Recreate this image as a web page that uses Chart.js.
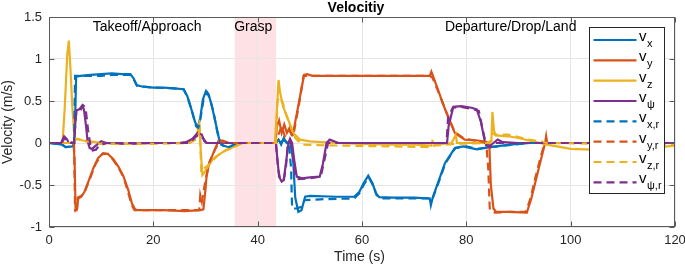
<!DOCTYPE html>
<html>
<head>
<meta charset="utf-8">
<script src="https://cdn.jsdelivr.net/npm/chart.js@4.4.1/dist/chart.umd.min.js"></script>
<style>
  html, body { margin: 0; padding: 0; background: #fff; }
</style>
</head>
<body>
<canvas id="velocity" width="685" height="266"></canvas>
<script>
const FONT = '"Liberation Sans", Arial, Helvetica, sans-serif';

// axis ticks
const xTicks = [0, 20, 40, 60, 80, 100, 120];
const yTicks = [-1, -0.5, 0, 0.5, 1, 1.5];

// grasp phase (s)
const graspStart = 35.6;
const graspEnd = 43.5;

// phase labels: [text, time]
const phases = [
    ['Takeoff/Approach', 18.8],
    ['Grasp', 35.5],
    ['Departure/Drop/Land', 88.5],
];

// measured velocities, [time (s), value (m/s)]
const vx = [[0,0],[2.5,-0.02],[3.2,-0.05],[4.5,-0.04],[4.9,0],[5.2,0.79],[6,0.80],[8,0.81],[10,0.82],[12,0.83],[14,0.82],[15.6,0.82],[16.2,0.77],[16.8,0.69],[18,0.67],[20,0.66],[22,0.66],[24,0.65],[25.8,0.64],[26.5,0.56],[27.3,0.40],[28,0.25],[28.5,0.18],[29,0.3],[29.5,0.52],[30.1,0.62],[30.6,0.58],[31.3,0.42],[32,0.22],[32.6,0.05],[33.3,-0.03],[34.5,-0.05],[35.5,-0.02],[37,0],[43.5,0],[44,0.04],[44.5,-0.02],[45,0.06],[45.6,0],[46.2,0.02],[46.8,-0.2],[47.2,-0.65],[47.8,-0.82],[48.4,-0.80],[49.1,-0.64],[50,-0.63],[55,-0.64],[58.5,-0.64],[59.5,-0.58],[60.3,-0.48],[61.2,-0.39],[62,-0.48],[62.7,-0.6],[63.3,-0.645],[66,-0.65],[70,-0.65],[73,-0.66],[73.2,-0.74],[73.6,-0.64],[74.3,-0.52],[75.9,-0.24],[77.8,-0.06],[79.4,-0.04],[82,-0.075],[84.5,-0.05],[88.4,-0.02],[92.2,0],[120,0]];
const vy = [[0,0],[4.7,0],[4.9,-0.2],[5.1,-0.80],[5.4,-0.78],[5.6,-0.66],[6.2,-0.64],[6.8,-0.58],[7.6,-0.45],[8.5,-0.30],[9.4,-0.18],[10.4,-0.12],[11.3,-0.13],[12.3,-0.19],[13.3,-0.28],[14.3,-0.4],[15.2,-0.56],[15.9,-0.72],[16.5,-0.79],[17,-0.80],[22,-0.80],[26,-0.81],[29,-0.80],[29.6,-0.79],[30.0,-0.55],[30.2,-0.40],[30.7,-0.24],[31.5,-0.12],[32.5,0.03],[33.3,0.03],[34.5,0],[43.4,0],[43.7,0.2],[44.1,0.27],[44.6,0.12],[45.1,0.22],[45.6,0.12],[46.1,0.18],[46.5,0.1],[46.8,0.12],[47.8,0.45],[48.9,0.81],[49.5,0.82],[50.5,0.80],[60,0.80],[70,0.80],[73,0.80],[73.3,0.85],[73.6,0.80],[74.6,0.63],[75.5,0.47],[76.5,0.31],[77.8,0.12],[79.7,0.04],[82.2,0.03],[83.9,0.01],[84.4,-0.02],[84.7,-0.5],[85.2,-0.78],[85.7,-0.82],[88,-0.82],[91.6,-0.83],[92.5,-0.65],[93.5,-0.40],[94.5,-0.15],[95.1,0],[95.3,0.08],[95.5,0],[120,0]];
const vz = [[0,0],[2.6,0],[3.0,0.4],[3.5,1.05],[3.8,1.22],[4.1,0.9],[4.5,0.4],[4.9,0.04],[5.5,0.05],[6.5,0.03],[8,0.02],[10,0],[15,-0.01],[20,0],[25,0],[27,0.02],[28.3,0.08],[28.8,0.23],[29.1,-0.1],[29.4,-0.38],[29.9,-0.34],[30.5,-0.28],[31.3,-0.2],[32.1,-0.16],[33,-0.12],[34.1,-0.08],[35.7,-0.04],[37,0],[43.3,0],[43.6,0.3],[44.0,0.75],[44.3,0.6],[44.9,0.43],[45.9,0.27],[46.8,0.12],[48.1,0.04],[50,0.02],[55,0],[60,-0.01],[65,-0.02],[70,-0.02],[73.3,-0.03],[73.5,0.02],[74,-0.02],[77.2,0],[78,0.1],[78.2,0],[83.6,0],[84.8,0.02],[85.0,0.37],[85.3,0.15],[85.6,0.09],[88,0.08],[90,0.06],[92,0.03],[95.5,-0.02],[100,-0.07],[104,-0.08],[112,-0.08],[120,-0.03]];
const vpsi = [[0,0],[2.3,0],[2.9,0.08],[3.4,0.05],[3.8,0],[4.8,0],[5.1,0.30],[5.3,0.39],[5.8,0.40],[6.3,0.44],[6.7,0.40],[7.1,0.2],[7.4,0.02],[7.8,-0.06],[8.3,-0.07],[8.8,-0.04],[9.4,-0.01],[10,0.02],[11,0],[15,-0.01],[20,0],[25,0],[26.3,0.01],[27.5,0.05],[28.5,0.12],[29.3,0.1],[29.8,0.02],[30.2,0],[33,0],[43.5,0],[43.8,-0.2],[44.1,-0.40],[44.6,-0.46],[45.0,-0.44],[45.5,-0.2],[45.9,0],[46.2,0.05],[46.6,0],[47.0,-0.2],[47.5,-0.40],[48.5,-0.42],[50,-0.41],[51.9,-0.40],[52.5,-0.25],[53.2,0],[53.8,0.04],[55.5,0],[60,0],[70,0],[76.3,0],[76.6,0.2],[77.5,0.43],[79,0.44],[81,0.42],[82,0.40],[82.8,0.25],[83.6,0],[84.4,-0.04],[85.2,0],[86,0.04],[87,0.01],[90,0],[120,0]];

// reference velocities, [time (s), value (m/s)]
const vxRef = [[0,0],[2.5,-0.02],[3.2,-0.05],[4.4,-0.04],[4.8,0],[5.0,0.80],[8,0.80],[10,0.80],[12,0.81],[15.6,0.81],[16.3,0.75],[16.9,0.68],[20,0.66],[24,0.65],[25.8,0.64],[26.6,0.54],[27.4,0.38],[28.2,0.2],[28.7,0.18],[29.2,0.35],[29.7,0.55],[30.3,0.6],[30.9,0.52],[31.6,0.35],[32.3,0.12],[33,-0.02],[34.5,-0.05],[36,0],[44,0],[45,0.03],[46,0],[46.4,-0.3],[46.6,-0.78],[47.5,-0.78],[48.4,-0.76],[49,-0.68],[52,-0.67],[58.5,-0.66],[59.5,-0.6],[60.4,-0.49],[61.3,-0.41],[62.1,-0.5],[62.8,-0.62],[63.5,-0.66],[70,-0.66],[73,-0.66],[73.4,-0.68],[74.4,-0.52],[76,-0.24],[77.9,-0.06],[80,-0.04],[82,-0.07],[84.5,-0.05],[92,0],[120,0]];
const vyRef = [[0,0],[4.8,0],[5.0,-0.80],[5.3,-0.80],[5.5,-0.65],[6.2,-0.63],[7,-0.56],[8,-0.4],[9,-0.24],[10.2,-0.13],[11.3,-0.13],[12.3,-0.2],[13.3,-0.29],[14.3,-0.41],[15.1,-0.57],[15.8,-0.73],[16.4,-0.8],[28.8,-0.80],[29.0,-0.62],[29.3,-0.7],[29.7,-0.55],[30.2,-0.38],[30.8,-0.22],[31.8,-0.08],[32.7,0.02],[34,0],[43.5,0],[44,0.1],[44.6,0.2],[45.2,0.08],[46,0.15],[46.8,0.08],[47.9,0.45],[48.8,0.80],[52,0.80],[73,0.80],[73.5,0.78],[74.5,0.63],[75.6,0.46],[76.6,0.3],[77.8,0.13],[79.6,0.05],[83.8,0.01],[84.2,-0.3],[84.5,-0.8],[85.5,-0.83],[88,-0.82],[91.4,-0.82],[92.3,-0.66],[93.2,-0.42],[94.2,-0.18],[95,0],[120,0]];
const vzRef = [[0,0],[4.8,0],[5.2,0.05],[7,0.02],[10,-0.01],[20,-0.01],[27,0],[28.4,0.05],[28.9,0.15],[29.2,-0.35],[29.8,-0.3],[30.6,-0.26],[31.5,-0.2],[32.5,-0.14],[33.8,-0.09],[35.5,-0.05],[37,0],[43.5,0],[43.8,0.5],[44.2,0.55],[44.8,0.48],[45.5,0.33],[46.3,0.2],[47.2,0.06],[48.5,-0.02],[55,-0.03],[65,-0.04],[73,-0.05],[74,-0.03],[78,-0.01],[84.5,0],[85,0.12],[85.5,0.1],[88,0.1],[90,0.07],[92,0.04],[94,0.02],[95.5,0],[120,-0.02]];
const vpsiRef = [[0,0],[2.4,0],[3,0.06],[3.6,0.02],[4.8,0],[5.2,0.35],[5.8,0.36],[6.5,0.45],[7.0,0.42],[7.5,0.15],[7.9,-0.02],[8.4,-0.09],[9,-0.08],[9.6,-0.03],[11,0],[27,0],[28.2,0.08],[28.8,0.1],[29.6,0.05],[30.2,0],[43.5,0],[43.9,-0.3],[44.3,-0.43],[45,-0.44],[45.4,-0.3],[45.8,0],[46.5,0],[47.1,-0.35],[47.6,-0.43],[50,-0.42],[52.1,-0.40],[52.8,-0.2],[53.5,0],[55,0],[76.2,0],[76.5,0.3],[77.4,0.42],[79,0.43],[81.5,0.40],[82.4,0.38],[83,0.2],[83.8,-0.03],[84.6,-0.05],[85.5,0],[120,0]];

const series = [vx, vy, vz, vpsi, vxRef, vyRef, vzRef, vpsiRef];
const subscripts = ['x', 'y', 'z', 'ψ', 'x,r', 'y,r', 'z,r', 'ψ,r'];
const colors = ['#0072BD', '#D95319', '#EDB120', '#7E2F8E'];

const datasets = series.map((s, i) => ({
    label: 'v_' + subscripts[i],
    data: s.map(p => ({x: p[0], y: p[1]})),
    borderColor: colors[i % 4],
    borderWidth: 2.2,
    borderDash: i < 4 ? [] : [8, 5],
    pointRadius: 0,
    tension: 0,
    fill: false,
    order: series.length - i,
}));

const matlabAxes = {
    id: 'matlabAxes',
    beforeDraw(chart) {
        const {ctx, chartArea: a, scales: {x}} = chart;
        ctx.save();
        ctx.fillStyle = '#fde1e5';
        const x0 = x.getPixelForValue(graspStart);
        const x1 = x.getPixelForValue(graspEnd);
        ctx.fillRect(x0, a.top, x1 - x0, a.bottom - a.top);
        ctx.restore();
    },
    afterDatasetsDraw(chart) {
        const {ctx, chartArea: a, scales: {x, y}} = chart;
        ctx.save();

        // box and inward ticks
        const L = Math.round(a.left) + 0.5, R = Math.round(a.right) - 0.5;
        const T = Math.round(a.top) + 0.5, B = Math.round(a.bottom) - 0.5;
        ctx.strokeStyle = '#5a5a5a';
        ctx.lineWidth = 1;
        ctx.strokeRect(L, T, R - L, B - T);
        ctx.beginPath();
        xTicks.forEach(t => {
            const px = Math.round(x.getPixelForValue(t)) + 0.5;
            ctx.moveTo(px, B); ctx.lineTo(px, B - 5);
            ctx.moveTo(px, T); ctx.lineTo(px, T + 5);
        });
        yTicks.forEach(t => {
            const py = Math.round(y.getPixelForValue(t)) + 0.5;
            ctx.moveTo(L, py); ctx.lineTo(L + 5, py);
            ctx.moveTo(R, py); ctx.lineTo(R - 5, py);
        });
        ctx.stroke();

        // title and axis titles
        ctx.fillStyle = '#000';
        ctx.textAlign = 'center';
        ctx.textBaseline = 'alphabetic';
        ctx.font = `bold 14px ${FONT}`;
        ctx.fillText('Velocitiy', 356, 11.5);
        ctx.fillStyle = '#262626';
        ctx.font = `14px ${FONT}`;
        ctx.fillText('Time (s)', 359.5, 261);
        ctx.save();
        ctx.translate(11.5, (a.top + a.bottom) / 2);
        ctx.rotate(-Math.PI / 2);
        ctx.fillText('Velocity (m/s)', 0, 0);
        ctx.restore();

        // phase labels
        ctx.fillStyle = '#000';
        phases.forEach(([text, t], i) => {
            ctx.textAlign = i === 1 ? 'left' : 'center';
            ctx.fillText(text, x.getPixelForValue(t), 31);
        });

        // legend
        const bw = 75, bh = 166;
        const bx = Math.round(a.right) - 11 - bw + 0.5;
        const by = Math.round(a.top) + 10 + 0.5;
        ctx.fillStyle = '#fff';
        ctx.fillRect(bx, by, bw, bh);
        ctx.strokeStyle = '#262626';
        ctx.lineWidth = 1;
        ctx.strokeRect(bx, by, bw, bh);
        ctx.textAlign = 'left';
        chart.data.datasets.forEach((ds, i) => {
            const ry = by + 12.5 + i * 20.33;
            ctx.strokeStyle = ds.borderColor;
            ctx.lineWidth = 2.2;
            ctx.setLineDash(ds.borderDash);
            ctx.beginPath();
            ctx.moveTo(bx + 4, ry);
            ctx.lineTo(bx + 47, ry);
            ctx.stroke();
            ctx.setLineDash([]);
            ctx.fillStyle = '#000';
            ctx.font = `15px ${FONT}`;
            const tx = bx + 49.5;
            ctx.fillText('v', tx, ry + 1);
            const w = ctx.measureText('v').width;
            ctx.font = `11px ${FONT}`;
            ctx.fillText(subscripts[i], tx + w + 0.5, ry + 7);
        });
        ctx.restore();
    }
};

new Chart(document.getElementById('velocity'), {
    type: 'line',
    data: {datasets: datasets},
    options: {
        responsive: false,
        devicePixelRatio: 1,
        animation: false,
        layout: {padding: {top: 17, right: 10, left: 0, bottom: 0}},
        plugins: {
            legend: {display: false},
            title: {display: false},
            tooltip: {enabled: false},
        },
        scales: {
            x: {
                type: 'linear',
                min: 0,
                max: 120,
                afterFit: s => {
                    s.height = 39;
                    s.paddingLeft = 0;
                    s.paddingRight = 0;
                },
                afterBuildTicks: s => { s.ticks = xTicks.map(v => ({value: v})); },
                ticks: {
                    padding: 6,
                    color: '#262626',
                    font: {family: FONT, size: 13},
                    callback: v => String(v),
                },
                grid: {color: '#e6e6e6', drawTicks: false},
                border: {display: false},
            },
            y: {
                min: -1,
                max: 1.5,
                afterFit: s => {
                    s.width = 49;
                    s.paddingTop = 0;
                    s.paddingBottom = 0;
                },
                afterBuildTicks: s => { s.ticks = yTicks.map(v => ({value: v})); },
                ticks: {
                    padding: 7,
                    color: '#262626',
                    font: {family: FONT, size: 13},
                    callback: v => String(v),
                },
                grid: {color: '#e6e6e6', drawTicks: false},
                border: {display: false},
            },
        },
    },
    plugins: [matlabAxes],
});
</script>
</body>
</html>
